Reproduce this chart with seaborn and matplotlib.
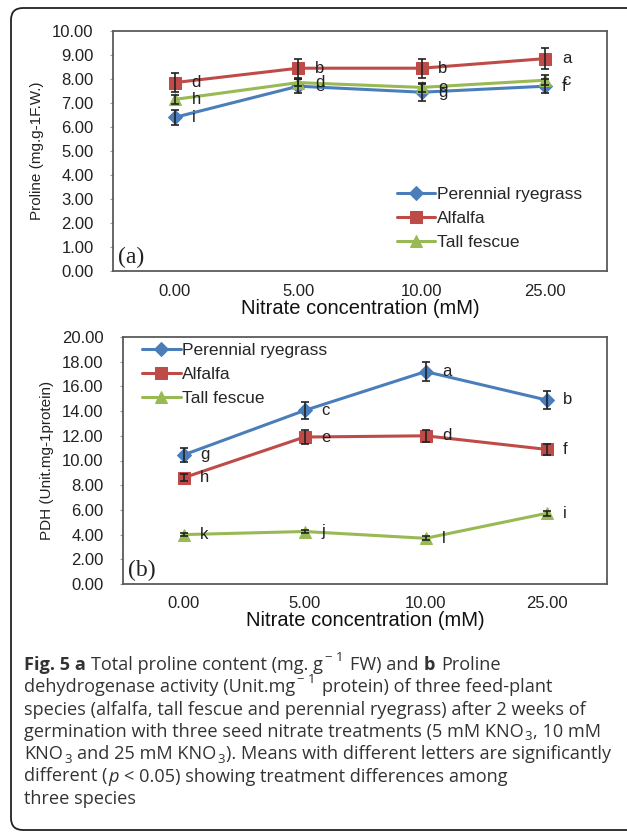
import matplotlib
matplotlib.use("Agg")
import matplotlib.pyplot as plt
import seaborn as sns
from matplotlib.patches import FancyBboxPatch

# Data
concentrations = ["0.00", "5.00", "10.00", "25.00"]
species = ["Perennial ryegrass", "Alfalfa", "Tall fescue"]

proline_ryegrass = [6.40, 7.70, 7.45, 7.70]
proline_alfalfa = [7.85, 8.45, 8.45, 8.85]
proline_fescue = [7.15, 7.85, 7.65, 7.95]
proline_err_ryegrass = [0.30, 0.30, 0.35, 0.30]
proline_err_alfalfa = [0.40, 0.40, 0.40, 0.45]
proline_err_fescue = [0.20, 0.15, 0.20, 0.20]
proline_letters_ryegrass = ["i", "e", "g", "f"]
proline_letters_alfalfa = ["d", "b", "b", "a"]
proline_letters_fescue = ["h", "d", "e", "c"]

pdh_ryegrass = [10.45, 14.05, 17.20, 14.90]
pdh_alfalfa = [8.60, 11.90, 12.00, 10.90]
pdh_fescue = [4.00, 4.25, 3.70, 5.72]
pdh_err_ryegrass = [0.60, 0.70, 0.80, 0.70]
pdh_err_alfalfa = [0.30, 0.60, 0.50, 0.45]
pdh_err_fescue = [0.15, 0.15, 0.15, 0.20]
pdh_letters_ryegrass = ["g", "c", "a", "b"]
pdh_letters_alfalfa = ["h", "e", "d", "f"]
pdh_letters_fescue = ["k", "j", "l", "i"]

colors = ["#4a7ebb", "#be4b48", "#98b954"]
markers = ["D", "s", "^"]
msizes = [7, 9, 8]

sns.set_style("white")
plt.rcParams["font.family"] = ["Liberation Sans", "DejaVu Sans"]

W, H = 627, 833
fig = plt.figure(figsize=(W / 100, H / 100), dpi=100)

# background frame with rounded corners
bg = fig.add_axes([0, 0, 1, 1], zorder=-5)
bg.set_xlim(0, W)
bg.set_ylim(H, 0)
bg.axis("off")
bg.add_patch(FancyBboxPatch((11, 8), 630, 822, boxstyle="round,pad=0,rounding_size=12",
                            fc="white", ec="#222222", lw=1.3))


def draw_panel(ax, values, errors, letters, ymax, ystep, ylabel, tag, legend_anchor):
    pos = list(range(len(concentrations)))
    for i, name in enumerate(species):
        sns.lineplot(x=pos, y=values[i], ax=ax, color=colors[i], marker=markers[i],
                     markersize=msizes[i], markeredgecolor=colors[i], lw=2.2,
                     label=name, zorder=3)
        ax.errorbar(pos, values[i], yerr=errors[i], fmt="none", ecolor="#222222",
                    elinewidth=1.2, capsize=3, capthick=1.2, zorder=4)
        for x, y, t in zip(pos, values[i], letters[i]):
            ax.annotate(t, (x, y), xytext=(12, 0), textcoords="offset points",
                        ha="left", va="center", fontsize=12, color="#222222")
    ax.set_xlim(-0.5, len(concentrations) - 0.5)
    ax.set_ylim(0, ymax)
    ax.set_xticks(pos)
    ax.set_xticklabels(concentrations)
    ax.set_xticks([0.5, 1.5, 2.5], minor=True)
    ticks = [ystep * k for k in range(int(round(ymax / ystep)) + 1)]
    ax.set_yticks(ticks)
    ax.set_yticklabels([f"{t:.2f}" for t in ticks])
    ax.tick_params(axis="x", which="major", length=0, pad=9, labelsize=12, labelcolor="#222222")
    ax.tick_params(axis="x", which="minor", length=3, direction="in", color="#777777")
    ax.tick_params(axis="y", length=2, direction="out", color="#999999", pad=12,
                   labelsize=12, labelcolor="#222222", left=True)
    for s in ax.spines.values():
        s.set_color("#5a5a5a")
        s.set_linewidth(1.3)
    ax.set_xlabel("Nitrate concentration (mM)", fontsize=14.5, labelpad=0, color="#111111")
    ax.set_ylabel(ylabel, fontsize=11, labelpad=6, color="#222222")
    ax.text(0.01, 0.055, tag, transform=ax.transAxes, family="Liberation Serif",
            fontsize=17, ha="left", va="center", color="#222222")
    ax.legend(loc="upper left", bbox_to_anchor=legend_anchor, frameon=False, fontsize=12.5,
              handlelength=2.2, handletextpad=0.1, labelspacing=0.5, borderpad=0,
              borderaxespad=0)


ax1 = fig.add_axes([113 / W, 1 - 271 / H, 494 / W, 240 / H])
draw_panel(ax1,
           [proline_ryegrass, proline_alfalfa, proline_fescue],
           [proline_err_ryegrass, proline_err_alfalfa, proline_err_fescue],
           [proline_letters_ryegrass, proline_letters_alfalfa, proline_letters_fescue],
           10, 1, "Proline (mg.g-1F.W.)", "(a)", (0.575, 0.35))

ax2 = fig.add_axes([123 / W, 1 - 584 / H, 484 / W, 247 / H])
draw_panel(ax2,
           [pdh_ryegrass, pdh_alfalfa, pdh_fescue],
           [pdh_err_ryegrass, pdh_err_alfalfa, pdh_err_fescue],
           [pdh_letters_ryegrass, pdh_letters_alfalfa, pdh_letters_fescue],
           20, 2, "PDH (Unit.mg-1protein)", "(b)", (0.04, 0.975))

# caption: each line is a list of (text, style) pieces
caption = [
    [("Fig. 5 a", "bold"), (" Total proline content (mg. g", "normal"), ("− 1", "sup"),
     (" FW) and ", "normal"), ("b", "bold"), (" Proline", "normal")],
    [("dehydrogenase activity (Unit.mg", "normal"), ("− 1", "sup"),
     (" protein) of three feed-plant", "normal")],
    [("species (alfalfa, tall fescue and perennial ryegrass) after 2 weeks of", "normal")],
    [("germination with three seed nitrate treatments (5 mM KNO", "normal"), ("3", "sub"),
     (", 10 mM", "normal")],
    [("KNO", "normal"), ("3", "sub"), (" and 25 mM KNO", "normal"), ("3", "sub"),
     ("). Means with different letters are significantly", "normal")],
    [("different (", "normal"), ("p", "italic"),
     (" < 0.05) showing treatment differences among", "normal")],
    [("three species", "normal")],
]
cap_size = 13.1
cap_family = ["Open Sans", "DejaVu Sans"]
renderer = fig.canvas.get_renderer()


def text_width(s, size, weight="normal", style="normal"):
    t = fig.text(0, 0, s, family=cap_family, fontsize=size, weight=weight, style=style)
    w = t.get_window_extent(renderer).width
    t.remove()
    return w


space_w = text_width("a a", cap_size) - text_width("aa", cap_size)
px = 100 / 72
lead_gap = {"sup": 1.0, "sub": 0.3}
tail_gap = {"sup": 1.5, "sub": 0.8}
for k, pieces in enumerate(caption):
    x = 24
    y = 665 + 22.3 * k
    for txt, kind in pieces:
        small = kind in ("sup", "sub")
        size = cap_size * 0.72 if small else cap_size
        dy = {"sup": -0.42, "sub": 0.28}.get(kind, 0) * cap_size * px
        weight = "bold" if kind == "bold" else "normal"
        style = "italic" if kind == "italic" else "normal"
        body = txt.strip(" ")
        x += (len(txt) - len(txt.lstrip(" "))) * space_w + lead_gap.get(kind, 0)
        t = fig.text(x / W, 1 - (y + dy) / H, body, family=cap_family, fontsize=size,
                     weight=weight, style=style, color="#333333", ha="left", va="center")
        x += t.get_window_extent(renderer).width + tail_gap.get(kind, 0.8)
        x += (len(txt) - len(txt.rstrip(" "))) * space_w

fig.savefig("out.png", dpi=100)
